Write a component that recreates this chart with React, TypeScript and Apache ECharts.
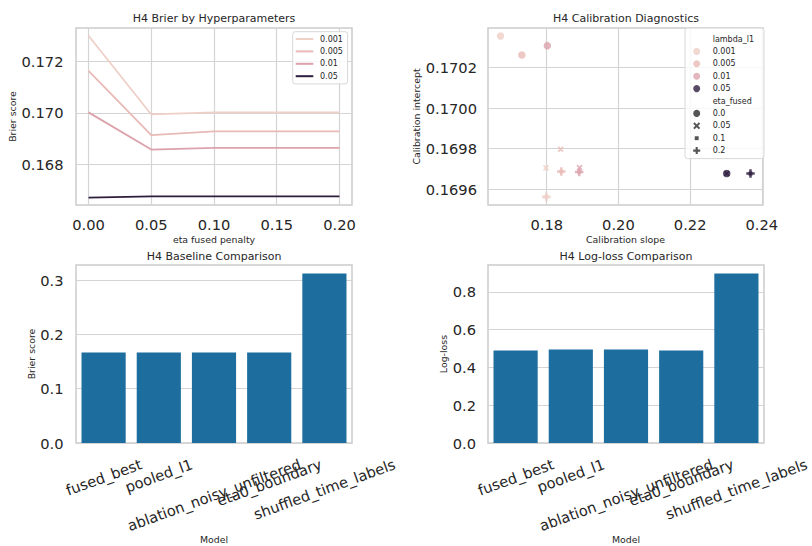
import React, { useEffect, useRef } from "react";
import * as echarts from "echarts";

// ---------- data ----------
const etaFused = [0, 0.05, 0.1, 0.15, 0.2];
const lambdaNames = ["0.001", "0.005", "0.01", "0.05"];
const lambdaColors = ["#eed0c7", "#e8bab6", "#dca2ac", "#2e1e3e"];
const brierL001 = [0.17301, 0.16994, 0.17002, 0.17002, 0.17002];
const brierL005 = [0.17164, 0.16913, 0.16928, 0.16928, 0.16928];
const brierL01 = [0.17002, 0.16857, 0.16864, 0.16864, 0.16864];
const brierL05 = [0.1667, 0.16675, 0.16675, 0.16675, 0.16675];
const brierTicksX = [0, 0.05, 0.1, 0.15, 0.2];
const brierTicksY = [0.168, 0.17, 0.172];

const etaShapeNames = ["0.0", "0.05", "0.1", "0.2"];
// per eta_fused value, one entry per lambda (0.001, 0.005, 0.01, 0.05)
const slopeEta00 = [0.16711, 0.17306, 0.18017, 0.2302];
const interceptEta00 = [0.170355, 0.170262, 0.170308, 0.169677];
const slopeEta005 = [0.1798, 0.18389, 0.18917, 0.2302];
const interceptEta005 = [0.169705, 0.169797, 0.169706, 0.169677];
const slopeEta01 = [0.1799, 0.18406, 0.18906, 0.23683];
const interceptEta01 = [0.169562, 0.169687, 0.169685, 0.169677];
const slopeEta02 = [0.1799, 0.18406, 0.18906, 0.23683];
const interceptEta02 = [0.169562, 0.169687, 0.169685, 0.169677];
const calibTicksX = [0.18, 0.2, 0.22, 0.24];
const calibTicksY = [0.1696, 0.1698, 0.17, 0.1702];

const models = ["fused_best", "pooled_l1", "ablation_noisy_unfiltered", "eta0_boundary", "shuffled_time_labels"];
const brierByModel = [0.1667, 0.1668, 0.1668, 0.1667, 0.3124];
const loglossByModel = [0.4895, 0.4945, 0.4945, 0.4893, 0.897];
const brierBarTicks = [0, 0.1, 0.2, 0.3];
const loglossBarTicks = [0, 0.2, 0.4, 0.6, 0.8];

// ---------- style ----------
const FONT = '"DejaVu Sans", "Liberation Sans", sans-serif';
const TXT = "#262626";
const GRIDLINE = "#d4d4d4";
const SPINE = "#cccccc";
const BAR = "#1d6d9e";
const TICK_FS = 14.67;
const X_SHAPE = "path://M0,2 L2,0 L5,3 L8,0 L10,2 L7,5 L10,8 L8,10 L5,7 L2,10 L0,8 L3,5 Z";
const P_SHAPE = "path://M3.5,0 L6.5,0 L6.5,3.5 L10,3.5 L10,6.5 L6.5,6.5 L6.5,10 L3.5,10 L3.5,6.5 L0,6.5 L0,3.5 L3.5,3.5 Z";
const SQ_SHAPE = "path://M0,0 L0,0 M10,10 L10,10 M2.2,2.2 L7.8,2.2 L7.8,7.8 L2.2,7.8 Z";

function valueAxis(gridIndex: number, min: number, max: number, ticks: number[], digits: number, margin: number, name: string, nameGap: number) {
  return {
    type: "value",
    gridIndex,
    min,
    max,
    name,
    nameLocation: "middle",
    nameGap,
    nameTextStyle: { fontFamily: FONT, fontSize: 9.4, color: TXT },
    axisLine: { show: false },
    axisTick: { show: false, customValues: ticks },
    axisLabel: {
      customValues: ticks,
      margin,
      fontFamily: FONT,
      fontSize: TICK_FS,
      color: TXT,
      formatter: (v: number) => v.toFixed(digits),
    },
    splitLine: { show: true, lineStyle: { color: GRIDLINE, width: 1.2 } },
  };
}

export default function App() {
  const ref = useRef<HTMLDivElement>(null);
  useEffect(() => {
    if (!ref.current) return;
    const chart = echarts.init(ref.current, undefined, { renderer: "svg" });

    // rotated category labels placed like matplotlib (bbox centered at tick, top aligned)
    const canvas = document.createElement("canvas");
    const ctx = canvas.getContext("2d")!;
    ctx.font = `${TICK_FS}px "DejaVu Sans"`;
    const rad = (20 * Math.PI) / 180;
    const rich: Record<string, any> = {};
    models.forEach((m, i) => {
      const L = ctx.measureText(m).width;
      const H = L * Math.sin(rad) + TICK_FS * 1.15 * Math.cos(rad);
      const d = H / 2;
      const a = d * Math.sin(rad);
      const b = d * Math.cos(rad);
      rich["c" + i] = {
        fontFamily: FONT,
        fontSize: TICK_FS,
        color: TXT,
        padding: [2 * b, 2 * a, 0, 0],
      };
    });
    const catAxis = (gridIndex: number) => ({
      type: "category",
      gridIndex,
      data: models,
      name: "Model",
      nameLocation: "middle",
      nameGap: 91,
      nameTextStyle: { fontFamily: FONT, fontSize: 9.4, color: TXT },
      axisLine: { show: false },
      axisTick: { show: false },
      splitLine: { show: false },
      axisLabel: {
        interval: 0,
        rotate: 20,
        align: "center",
        verticalAlign: "middle",
        margin: 12.5,
        formatter: (v: string, idx: number) => `{c${idx}|${v}}`,
        rich,
      },
    });

    const brierSeriesData = [brierL001, brierL005, brierL01, brierL05];
    const etaSlopes = [slopeEta00, slopeEta005, slopeEta01, slopeEta02];
    const etaIntercepts = [interceptEta00, interceptEta005, interceptEta01, interceptEta02];
    const etaSymbols = ["circle", X_SHAPE, SQ_SHAPE, P_SHAPE];
    const etaSizes = [7.5, 6.2, 7, 8.5];
    const drawOrder = [2, 1, 0, 3];

    const lineSeries = lambdaNames.map((n, i) => ({
      type: "line",
      name: n,
      xAxisIndex: 0,
      yAxisIndex: 0,
      data: etaFused.map((e, j) => [e, brierSeriesData[i][j]]),
      showSymbol: false,
      symbol: "none",
      lineStyle: { width: 1.8, color: lambdaColors[i] },
      itemStyle: { color: lambdaColors[i] },
    }));

    const scatterSeries = drawOrder.map((k) => ({
      type: "scatter",
      name: "eta_fused " + etaShapeNames[k],
      xAxisIndex: 1,
      yAxisIndex: 1,
      symbol: etaSymbols[k],
      symbolSize: etaSizes[k],
      itemStyle: { color: "#2b2b2b" },
      data: etaSlopes[k].map((s, i) => ({
        value: [s, etaIntercepts[k][i]],
        itemStyle: { color: lambdaColors[i] },
      })),
    }));

    const legendOnlySeries = [
      { type: "scatter", name: "lambda_l1", xAxisIndex: 1, yAxisIndex: 1, data: [] },
      ...lambdaNames.map((n, i) => ({
        type: "scatter",
        name: "lambda_l1 " + n,
        xAxisIndex: 1,
        yAxisIndex: 1,
        data: [],
        itemStyle: { color: lambdaColors[i] },
      })),
      { type: "scatter", name: "eta_fused", xAxisIndex: 1, yAxisIndex: 1, data: [] },
    ];

    const titles = [
      { text: "H4 Brier by Hyperparameters", x: 214, y: 18.3 },
      { text: "H4 Calibration Diagnostics", x: 626, y: 18.3 },
      { text: "H4 Baseline Comparison", x: 214, y: 256 },
      { text: "H4 Log-loss Comparison", x: 626, y: 256 },
    ];

    const option: any = {
      animation: false,
      backgroundColor: "#ffffff",
      textStyle: { fontFamily: FONT },
      graphic: titles.map((t) => ({
        type: "text",
        x: t.x,
        y: t.y,
        style: {
          text: t.text,
          align: "center",
          verticalAlign: "middle",
          fontFamily: FONT,
          fontSize: 11,
          fill: TXT,
        },
      })),
      grid: [
        { left: 76, top: 28, width: 276, height: 177 },
        { left: 488, top: 28, width: 275, height: 177 },
        { left: 76, top: 265, width: 276, height: 178 },
        { left: 488, top: 265, width: 276, height: 178 },
      ].map((g) => ({
        ...g,
        show: true,
        borderColor: SPINE,
        borderWidth: 1.5,
        backgroundColor: "transparent",
        containLabel: false,
        outerBoundsMode: "none",
      })),
      xAxis: [
        valueAxis(0, -0.01, 0.21, brierTicksX, 2, 12, "eta fused penalty", 30),
        valueAxis(1, 0.16362, 0.24032, calibTicksX, 2, 12, "Calibration slope", 30),
        catAxis(2),
        catAxis(3),
      ],
      yAxis: [
        valueAxis(0, 0.16641, 0.17331, brierTicksY, 3, 12.5, "Brier score", 59),
        valueAxis(1, 0.169522, 0.170395, calibTicksY, 4, 11, "Calibration intercept", 67),
        valueAxis(2, 0, 0.328, brierBarTicks, 1, 12.5, "Brier score", 40),
        valueAxis(3, 0, 0.942, loglossBarTicks, 1, 12, "Log-loss", 40.5),
      ],
      legend: [
        {
          orient: "vertical",
          left: 292.7,
          top: 31.7,
          padding: [2.3, 4.7, 2.7, 3],
          itemWidth: 17.6,
          itemHeight: 2,
          itemGap: 2.4,
          icon: "rect",
          backgroundColor: "rgba(255,255,255,0.8)",
          borderColor: "#d8d8d8",
          borderWidth: 1,
          borderRadius: 2.5,
          textStyle: { fontFamily: FONT, fontSize: 8, color: TXT, lineHeight: 10, padding: [0, 0, 0, 1.7] },
          data: lambdaNames,
        },
        {
          orient: "vertical",
          left: 685,
          top: 28,
          padding: [6, 10, 3, 8.2],
          itemWidth: 7,
          itemHeight: 7,
          itemGap: 2.4,
          backgroundColor: "rgba(255,255,255,0.8)",
          borderColor: "#d8d8d8",
          borderWidth: 1,
          borderRadius: 2.5,
          textStyle: { fontFamily: FONT, fontSize: 8, color: TXT, lineHeight: 10, padding: [0, 0, 0, 7.5] },
          formatter: (name: string) => {
            const parts = name.split(" ");
            return parts.length > 1 ? parts[1] : name;
          },
          data: [
            { name: "lambda_l1", icon: "circle", itemStyle: { color: "rgba(0,0,0,0)" } },
            ...lambdaNames.map((n, i) => ({ name: "lambda_l1 " + n, icon: "circle", itemStyle: { color: lambdaColors[i] } })),
            { name: "eta_fused", icon: "circle", itemStyle: { color: "rgba(0,0,0,0)" } },
            ...etaShapeNames.map((n, k) => ({
              name: "eta_fused " + n,
              icon: etaSymbols[k],
              itemStyle: { color: "#2b2b2b" },
            })),
          ],
        },
      ],
      series: [
        ...lineSeries,
        ...scatterSeries,
        ...legendOnlySeries,
        {
          type: "bar",
          name: "Brier score",
          xAxisIndex: 2,
          yAxisIndex: 2,
          data: brierByModel,
          barWidth: "80%",
          itemStyle: { color: BAR },
        },
        {
          type: "bar",
          name: "Log-loss",
          xAxisIndex: 3,
          yAxisIndex: 3,
          data: loglossByModel,
          barWidth: "80%",
          itemStyle: { color: BAR },
        },
      ],
    };
    chart.setOption(option);
    return () => chart.dispose();
  }, []);
  return (
    <div
      ref={ref}
      style={{ position: "fixed", left: 0, top: 0, width: 812, height: 546, background: "#fff" }}
    />
  );
}
